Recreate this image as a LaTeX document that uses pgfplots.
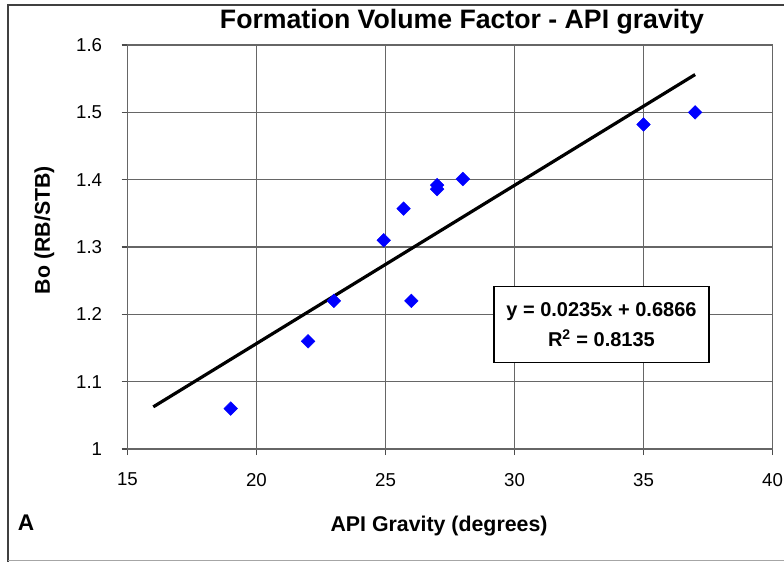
\documentclass[border=0pt]{standalone}
\usepackage{fontspec}
\setmainfont{Liberation Sans}
\usepackage{pgfplots}
\pgfplotsset{compat=1.18}
\begin{document}
\begin{tikzpicture}[x=0.75pt,y=0.75pt]
\path[use as bounding box] (0,0) rectangle (784,561);
\draw[black!75, line width=1.5pt] (8.3,-5) -- (8.3,556) -- (800,556);
\draw[black!35, line width=1.2pt] (8.3,0.6) -- (800,0.6);
\node[anchor=base, font=\bfseries\fontsize{17pt}{20pt}\selectfont] at (26,30.3) {A};
\begin{axis}[
 at={(95.625pt,84pt)}, anchor=south west, scale only axis,
 width=483.75pt, height=303pt,
 xmin=15, xmax=40, ymin=1, ymax=1.6,
 xtick={15,20,25,30,35,40}, ytick={1,1.1,1.2,1.3,1.4,1.5,1.6},
 grid=major, major grid style={draw=black!60, line width=0.8pt},
 axis line style={draw=black!60, line width=1.2pt},
 tick pos=left, tick align=outside, major tick length=4.5pt,
 tick style={black!70, line width=0.8pt},
 /pgf/number format/assume math mode=true,
 ticklabel style={font=\fontsize{14pt}{16pt}\selectfont},
 xticklabel style={yshift=-10pt},
 yticklabel style={xshift=-11pt},
 title={Formation Volume Factor - API gravity},
 title style={at={(axis description cs:0.5186,1.0206)}, anchor=base, font=\bfseries\fontsize{20pt}{24pt}\selectfont},
 xlabel={API Gravity (degrees)},
 xlabel style={at={(axis description cs:0.483,-0.2047)}, anchor=base, font=\bfseries\fontsize{16pt}{19pt}\selectfont},
 ylabel={Bo (RB/STB)},
 ylabel style={at={(axis description cs:-0.1202,0.542)}, anchor=base, font=\bfseries\fontsize{16pt}{19pt}\selectfont},
 clip=false,
]
\addplot[black, line width=2.4pt] coordinates {(16,1.0626) (37,1.5561)};
\addplot[only marks, mark=square*, mark size=3.6pt, mark options={rotate=45, fill=blue, draw=blue}] coordinates {
 (19,1.06) (22,1.16) (23,1.22) (24.93,1.31) (25.7,1.357) (26,1.22)
 (27,1.386) (27,1.392) (28,1.401) (35,1.482) (37,1.50)
};
\node[draw=black, line width=1.1pt, fill=white, minimum width=161pt, minimum height=57pt,
 align=center, font=\bfseries\fontsize{15pt}{22pt}\selectfont]
 at (axis cs:33.37,1.1846) {y = 0.0235x + 0.6866\\R\textsuperscript{2} = 0.8135};
\end{axis}
\end{tikzpicture}
\end{document}
